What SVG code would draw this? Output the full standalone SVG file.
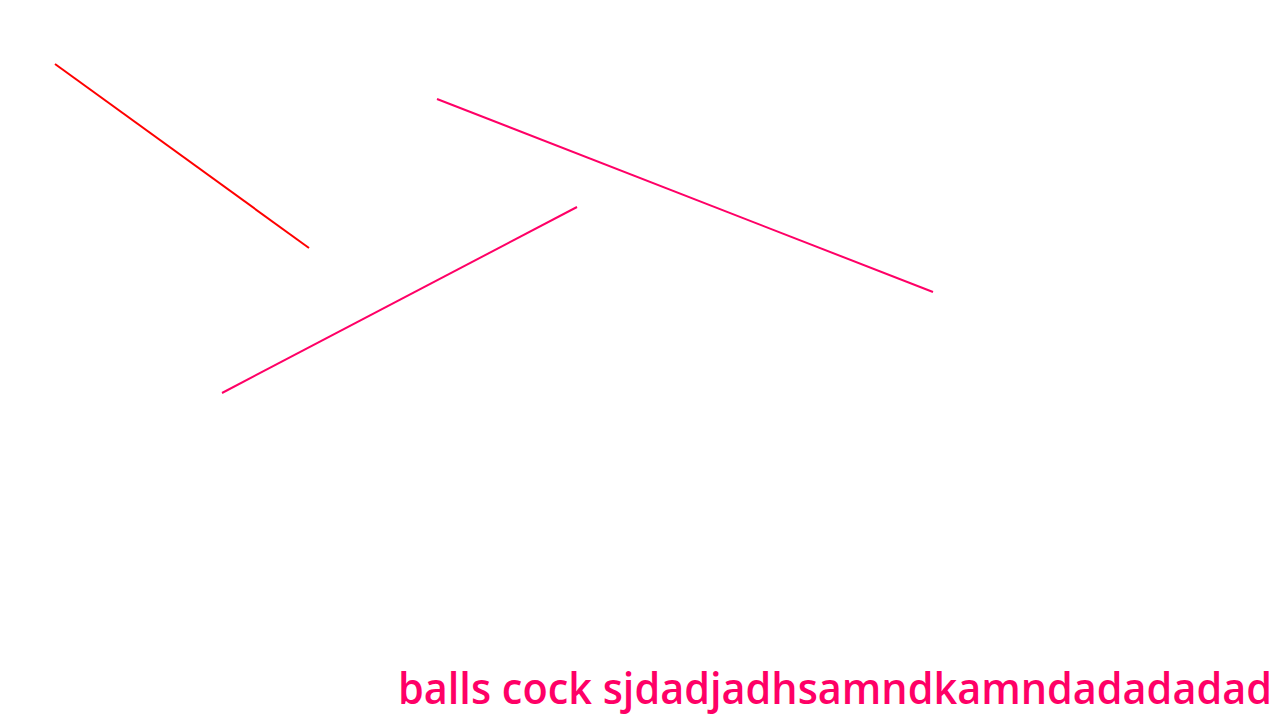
<svg xmlns="http://www.w3.org/2000/svg" width="1280" height="720" viewBox="0 0 1280 720">
<style>
.ln{stroke-width:2;fill:none}
.lbl{font-family:"Open Sans","Noto Sans",sans-serif;font-weight:600;font-size:44px;fill:#FF0066}
</style>
<rect width="1280" height="720" fill="#fff"/>
<g id="connectors">
<line class="ln" x1="55" y1="64" x2="309" y2="248" stroke="#FF0000"/>
<line class="ln" x1="437" y1="99" x2="933" y2="292" stroke="#FF0066"/>
<line class="ln" x1="222" y1="393" x2="577" y2="207" stroke="#FF0066"/>
</g>
<g id="label">
<text class="lbl" x="398" y="704" textLength="874" lengthAdjust="spacingAndGlyphs">balls cock sjdadjadhsamndkamndadadadad</text>
</g>
</svg>
